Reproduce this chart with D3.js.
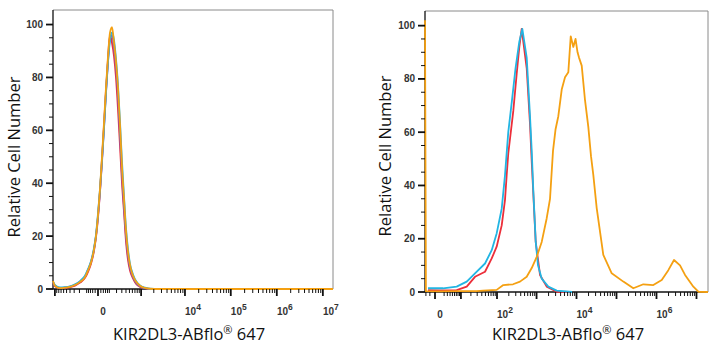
<!DOCTYPE html>
<html><head><meta charset="utf-8">
<script src="https://cdn.jsdelivr.net/npm/d3@7"></script>
<style>body{margin:0;background:#fff}</style>
</head><body><svg id="c" width="718" height="350"></svg>
<script>
// ---------- DATA ----------
// Left panel (all four samples overlap around zero)
const leftX = [-1112,-993,-745,-551,-400,-283,-191,-120,-85,-55,-29,-14,0,14,29,46,64,85,108,133,161,191,225,263,304,350,400,456,518,623,745,939,1243,1632,2777];
const leftRed    = [2.5,1.0,0.3,0.4,0.7,1.3,2.4,4.2,6.5,9.5,14.5,19.5,27,37,49,62,75,87,96,93,88,80,68,54,40,29,18,11,7,4,2,0.8,0.3,0,0];
const leftBlue   = [2.6,1.2,0.4,0.6,0.9,1.6,2.8,4.7,7.2,10.2,15,20,27.5,37,48,61,74,86,95,96,91,84,73,58,43,31,20,12.5,8,4.5,2.4,1,0.3,0,0];
const leftCyan   = [2.8,1.5,0.6,0.7,1.0,1.8,3.0,5,7.5,10.5,15.5,20.5,28.5,38,49,61,74,86,94,97,94,87,77,63,48,35,23,15,9.5,5.5,3,1.3,0.5,0.1,0];
const leftOrange = [3.0,1.2,0.3,0.5,0.8,1.5,2.7,4.5,7,10,15,20,28,38,50,63,76,88,97,99,93,86,76,62,46,34,22,14,9,5,2.8,1.2,0.4,0.1,0];
const leftOrangeTailX = [2777, 16600000];
const leftOrangeTailY = [0, 0];

// Right panel
const rightRedX = [-1.44,0.97,7.2,15.1,26.1,48.7,73,98,132,160,177,194,260,317,369,423,566,685,756,829,952,1221,1797,3199,6888];
const rightRedY = [0.7,0.6,0.7,2,5.7,7.6,12.6,17,25,34.5,44,52,68,82,92,98.8,84,63,49,37,18.8,6.4,2,0.1,0];
const rightCyanX = [-1.44,1.70,7.2,15.1,26.1,48.7,73,98,132,160,194,241,296,369,439,566,685,756,829,952,1088,1347,1971,3199,7729];
const rightCyanY = [1.4,1.4,2,3.9,7,10.7,15.7,22,31.3,43.8,60,72,84,94,98.8,88,66,53,38,19,10,5,2,0.5,0];
const rightOrangeX = [-2.26,-2.0,0.97,7.2,29,43,98,145,256,384,566,756,1009,1347,1797,2174,2369,2583,2984,3506,4266,5159,6241,7171,7729,8320,9457,10611,11554,13497,16324,19735,23046,26315,31995,46783,75907,148187,263550,468780,833750,1352300,1977500,2744800,3877000,5173000,8352000,11110000,19370000];
const rightOrangeY = [102,0.3,0.2,0.3,0.3,0.5,0.8,2.6,2.9,3.9,5.7,9,13.2,18.8,27.7,35,44,53,61,66,76,80.6,82.5,96,94,92,95,90,88,85,72,62,51,44,31.5,13.9,7,3.9,1.4,2.9,2.6,4.5,8.2,12,10,6.4,2,0.1,0];

// Axes
const yTicks = [0,20,40,60,80,100];
const leftMajor = [-1000,0,1000,1e4,1e5,1e6,1e7];
const leftLabels = [[0,""],[1e4,"4"],[1e5,"5"],[1e6,"6"],[1e7,"7"]];
const rightMajor = [0,10,100,1e3,1e4,1e5,1e6,1e7];
const rightLabels = [[0,""],[1e2,"2"],[1e4,"4"],[1e6,"6"]];
const xTitle = "KIR2DL3-ABflo";
const xTitleSuffix = " 647";
const yTitle = "Relative Cell Number";

const colors = {red:"#ec2f3a", blue:"#7a5fc6", cyan:"#22b5e3", orange:"#f4a012"};

// ---------- DRAW ----------
const svg = d3.select("#c");
const zip = (a,b) => a.map((v,i)=>[v,b[i]]);

function minorTicks(lo, hiExp, negExp) {
  const t = [];
  for (let e = lo; e <= hiExp; e++) for (let k = 2; k <= 9; k++) t.push(k*Math.pow(10,e));
  for (let e = lo; e <= negExp; e++) for (let k = 1; k <= 9; k++) t.push(-k*Math.pow(10,e));
  return t;
}

function panel(cfg) {
  const g = svg.append("g");
  const x = d3.scaleSymlog().constant(cfg.c).domain(cfg.dom).range([cfg.x0, cfg.x1]);
  const y = d3.scaleLinear().domain([0, 105.5]).range([cfg.yb, cfg.yt]);

  const id = "clip" + cfg.x0;
  svg.append("clipPath").attr("id", id).append("rect")
    .attr("x", cfg.x0-1).attr("y", cfg.yt).attr("width", cfg.x1-cfg.x0+1).attr("height", cfg.yb-cfg.yt+2);

  // frame (top/right grey)
  g.append("path").attr("d", `M${cfg.x0},${cfg.yt}H${cfg.x1}V${cfg.yb}`)
    .attr("fill","none").attr("stroke","#8a8a8a").attr("stroke-width",1);

  // axes lines
  g.append("line").attr("x1",cfg.x0).attr("x2",cfg.x0).attr("y1",cfg.yt).attr("y2",cfg.yb)
    .attr("stroke","#111").attr("stroke-width",1.3);
  g.append("line").attr("x1",cfg.x0).attr("x2",cfg.x1).attr("y1",cfg.yb).attr("y2",cfg.yb)
    .attr("stroke","#111").attr("stroke-width",1.3);

  // curves (drawn over the axis lines)
  const line = d3.line().x(d=>x(d[0])).y(d=>y(d[1])).curve(cfg.curve);
  const cg = g.append("g").attr("clip-path", `url(#${id})`);
  cfg.series.forEach(s => {
    cg.append("path").datum(zip(s.x, s.y)).attr("d", line)
      .attr("fill","none").attr("stroke", s.color).attr("stroke-width", 1.8)
      .attr("stroke-linejoin","round");
  });

  // y ticks
  const yMinor = d3.range(0, 101, 5);
  g.selectAll(null).data(yMinor).join("line")
    .attr("x1", cfg.x0).attr("x2", d => cfg.x0 - (d%20===0 ? 7 : 4))
    .attr("y1", d=>y(d)).attr("y2", d=>y(d))
    .attr("stroke","#111").attr("stroke-width", d => d%20===0 ? 1.8 : 1);
  g.selectAll(null).data(yTicks).join("text")
    .attr("x", cfg.x0 - 10).attr("y", d=>y(d)).attr("dy","0.35em")
    .attr("text-anchor","end").attr("font-family","Liberation Sans, Arial, sans-serif")
    .attr("font-size", 10).attr("font-weight","bold").attr("fill","#333").text(d=>d);

  // x ticks
  const inDom = v => v >= cfg.dom[0] && v <= cfg.dom[1];
  g.selectAll(null).data(cfg.minor.filter(inDom)).join("line")
    .attr("x1", d=>x(d)).attr("x2", d=>x(d)).attr("y1", cfg.yb).attr("y2", cfg.yb+4)
    .attr("stroke","#111").attr("stroke-width",1);
  g.selectAll(null).data(cfg.major.filter(inDom)).join("line")
    .attr("x1", d=>x(d)).attr("x2", d=>x(d)).attr("y1", cfg.yb).attr("y2", cfg.yb+7)
    .attr("stroke","#111").attr("stroke-width",1.8);
  cfg.labels.forEach(([v, ex]) => {
    const t = g.append("text").attr("y", cfg.yb + 26)
      .attr("font-family","Liberation Sans, Arial, sans-serif").attr("font-size",10)
      .attr("font-weight","bold").attr("fill","#333").attr("text-anchor","middle");
    if (ex === "") { t.attr("x", x(v)+5).text("0"); }
    else {
      t.attr("x", x(v)+8);
      t.append("tspan").text("10");
      t.append("tspan").attr("dy",-5).attr("font-size",8.5).text(ex);
    }
  });

  // titles
  g.append("text").attr("transform", `translate(${cfg.ytx},${cfg.yty}) rotate(-90)`)
    .attr("text-anchor","middle").attr("font-family","Open Sans, Noto Sans, sans-serif")
    .attr("font-size",16.5).attr("fill","#111").text(yTitle);
  const xt = g.append("text").attr("x", cfg.xtx).attr("y", 340)
    .attr("text-anchor","middle").attr("font-family","Open Sans, Noto Sans, sans-serif")
    .attr("font-size",16.5).attr("fill","#111");
  xt.append("tspan").text(xTitle);
  xt.append("tspan").attr("dy",-6).attr("font-size",11).text("®");
  xt.append("tspan").attr("dy",6).text(xTitleSuffix);
}

panel({
  x0:53, x1:333, yt:10, yb:289, c:131, dom:[-1112, 1.66e7], curve:d3.curveMonotoneX,
  major:leftMajor, labels:leftLabels,
  minor: [...d3.range(-900,901,100).filter(v=>v!==0), ...[-80,-60,-40,-20,20,40,60,80],
          ...minorTicks(3,6,-1)],
  ytx:20, yty:157, xtx:189,
  series:[
    {x:leftOrangeTailX, y:leftOrangeTailY, color:colors.orange},
    {x:leftX, y:leftRed, color:colors.red},
    {x:leftX, y:leftBlue, color:colors.blue},
    {x:leftX, y:leftCyan, color:colors.cyan},
    {x:leftX, y:leftOrange, color:colors.orange}
  ]
});

panel({
  x0:425, x1:708, yt:11, yb:292, c:2.9, dom:[-2.26, 1.94e7], curve:d3.curveLinear,
  major:rightMajor, labels:rightLabels,
  minor: [-1,-2, ...minorTicks(0,6,-1)],
  ytx:391, yty:156, xtx:568,
  series:[
    {x:rightRedX, y:rightRedY, color:colors.red},
    {x:rightCyanX, y:rightCyanY, color:colors.cyan},
    {x:rightOrangeX, y:rightOrangeY, color:colors.orange}
  ]
});
</script>
</body></html>
